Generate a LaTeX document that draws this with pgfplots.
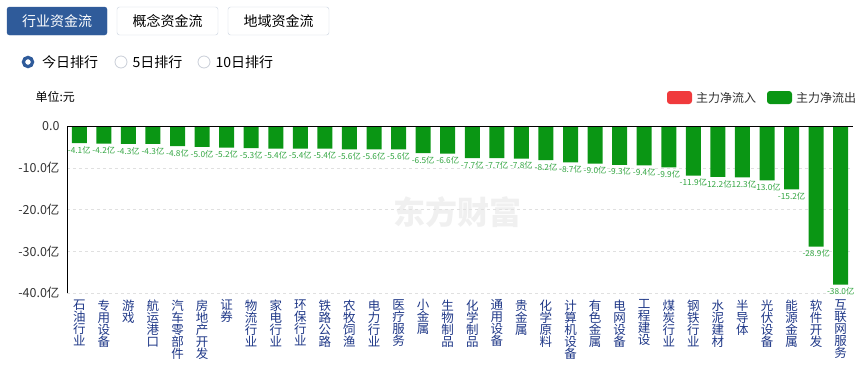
\documentclass[border=0pt]{standalone}
\usepackage{pgfplots}
\pgfplotsset{compat=1.18}
\usepackage{fontspec}
\setmainfont{Noto Sans CJK SC}
\definecolor{barg}{RGB}{10,150,20}
\definecolor{labg}{RGB}{50,165,65}
\definecolor{navy}{RGB}{30,55,135}
\definecolor{btnblue}{RGB}{47,91,154}
\definecolor{txt}{RGB}{51,51,51}
\definecolor{legred}{RGB}{240,58,60}
\definecolor{btnborder}{RGB}{200,210,222}
\definecolor{radioborder}{RGB}{200,205,215}
\begin{document}
\begin{tikzpicture}
\useasboundingbox (0,0) rectangle (867pt,-367pt);
% buttons
\draw[fill=btnblue, draw=btnblue, rounded corners=2.5pt] (7pt,-7pt) rectangle (107pt,-35pt);
\node[text=white, font=\fontsize{14}{14}\selectfont] at (57pt,-21pt) {行业资金流};
\draw[fill=white, draw=btnborder, rounded corners=2.5pt] (117pt,-7pt) rectangle (218pt,-35pt);
\node[text=black, font=\fontsize{14}{14}\selectfont] at (167.5pt,-21pt) {概念资金流};
\draw[fill=white, draw=btnborder, rounded corners=2.5pt] (228pt,-7pt) rectangle (329pt,-35pt);
\node[text=black, font=\fontsize{14}{14}\selectfont] at (278.5pt,-21pt) {地域资金流};
% radios
\draw[draw=btnblue, line width=3.2pt] (28pt,-62pt) circle (4.6pt);
\node[anchor=west, text=black, font=\fontsize{14}{14}\selectfont] at (38.5pt,-62pt) {今日排行};
\draw[draw=radioborder, line width=0.8pt] (121pt,-62pt) circle (6pt);
\node[anchor=west, text=black, font=\fontsize{14}{14}\selectfont] at (129pt,-62pt) {5日排行};
\draw[draw=radioborder, line width=0.8pt] (204pt,-62pt) circle (6pt);
\node[anchor=west, text=black, font=\fontsize{14}{14}\selectfont] at (212pt,-62pt) {10日排行};
% unit
\node[anchor=west, text=black, font=\fontsize{12}{12}\selectfont] at (32pt,-97pt) {单位:元};
% legend
\fill[legred, rounded corners=3pt] (667pt,-91pt) rectangle (692pt,-104pt);
\node[anchor=west, text=txt, font=\fontsize{12}{12}\selectfont, inner sep=0pt] at (696pt,-97.5pt) {主力净流入};
\fill[barg, rounded corners=3pt] (767pt,-91pt) rectangle (792pt,-104pt);
\node[anchor=west, text=txt, font=\fontsize{12}{12}\selectfont, inner sep=0pt] at (796pt,-97.5pt) {主力净流出};
% watermark
\node[text=black!6, font=\fontsize{32}{32}\selectfont\bfseries] at (457pt,-212pt) {东方财富};
\begin{axis}[
  at={(67pt,-293pt)}, anchor=south west,
  scale only axis, width=786pt, height=167pt,
  ymin=-40, ymax=0, xmin=-0.5, xmax=31.5,
  axis line style={draw=none},
  major tick length=0pt,
  ytick={-40,-30,-20,-10,0},
  yticklabels={-40.0亿,-30.0亿,-20.0亿,-10.0亿,0.0},
  yticklabel style={text=txt, font=\fontsize{12.5}{12.5}\selectfont, xshift=-4pt},
  ymajorgrids, grid style={dashed, black!12},
  xtick={0,...,31},
  xticklabels={{石\\油\\行\\业},{专\\用\\设\\备},{游\\戏},{航\\运\\港\\口},{汽\\车\\零\\部\\件},{房\\地\\产\\开\\发},{证\\券},{物\\流\\行\\业},{家\\电\\行\\业},{环\\保\\行\\业},{铁\\路\\公\\路},{农\\牧\\饲\\渔},{电\\力\\行\\业},{医\\疗\\服\\务},{小\\金\\属},{生\\物\\制\\品},{化\\学\\制\\品},{通\\用\\设\\备},{贵\\金\\属},{化\\学\\原\\料},{计\\算\\机\\设\\备},{有\\色\\金\\属},{电\\网\\设\\备},{工\\程\\建\\设},{煤\\炭\\行\\业},{钢\\铁\\行\\业},{水\\泥\\建\\材},{半\\导\\体},{光\\伏\\设\\备},{能\\源\\金\\属},{软\\件\\开\\发},{互\\联\\网\\服\\务}},
  xticklabel style={align=center, anchor=north, text=navy, font=\fontsize{12.5}{12}\selectfont, yshift=-3pt},
  ybar, bar width=15pt,
  nodes near coords={\pgfmathprintnumber[fixed,fixed zerofill,precision=1,assume math mode=true]{\pgfplotspointmeta}亿},
  every node near coord/.append style={text=labg, font=\fontsize{8.3}{8.3}\selectfont, inner sep=3pt},
  clip=false,
]
\addplot[fill=barg, draw=none] coordinates {
(0,-4.1) (1,-4.2) (2,-4.3) (3,-4.3) (4,-4.8) (5,-5.0) (6,-5.2) (7,-5.3)
(8,-5.4) (9,-5.4) (10,-5.4) (11,-5.6) (12,-5.6) (13,-5.6) (14,-6.5) (15,-6.6)
(16,-7.7) (17,-7.7) (18,-7.8) (19,-8.2) (20,-8.7) (21,-9.0) (22,-9.3) (23,-9.4)
(24,-9.9) (25,-11.9) (26,-12.2) (27,-12.3) (28,-13.0) (29,-15.2) (30,-28.9) (31,-38.0)
};
\draw[black, line width=0.8pt] (rel axis cs:0,0) -- (rel axis cs:0,1) -- (rel axis cs:1,1);
\end{axis}
\end{tikzpicture}
\end{document}
